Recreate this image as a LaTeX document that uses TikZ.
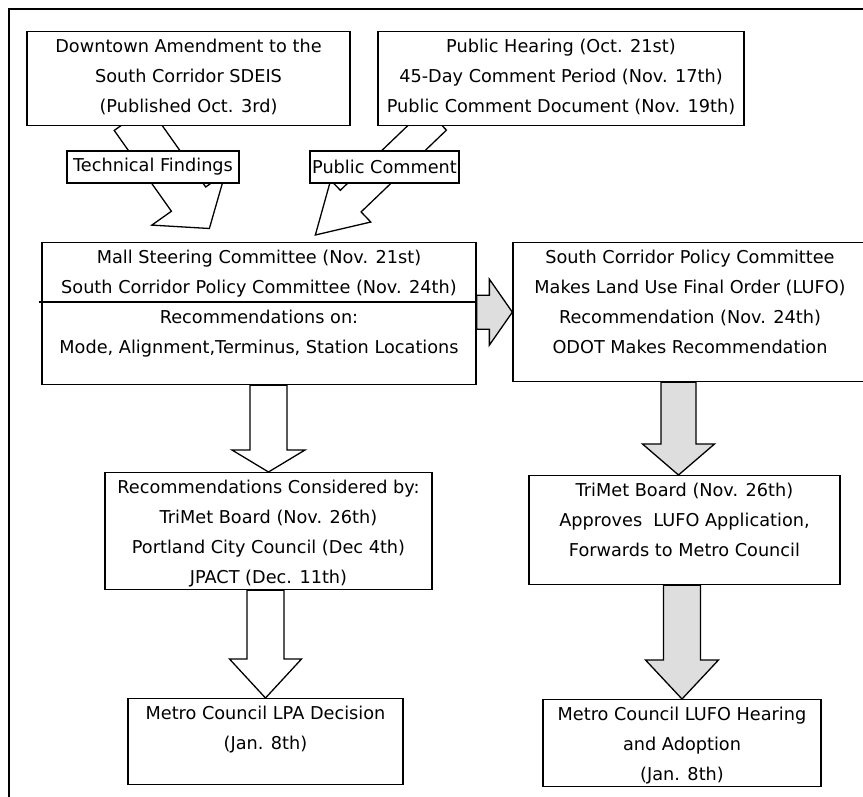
\documentclass[tikz,border=0pt]{standalone}
\usepackage{fontspec}
\setmainfont{DejaVu Sans}
\usetikzlibrary{calc,backgrounds}

\definecolor{arrowgray}{gray}{0.87}

% top aligned box text: width, height, lines
\newcommand{\boxtext}[3]{\parbox[t][#2][t]{#1}{\centering\rule{0pt}{21pt}#3}}

% block arrow: [fill] tail, tip, shaft half width, head half width, head length
\newcommand{\blockarrow}[6][white]{%
  \coordinate (ba) at ($(#3)!#6!(#2)$);
  \draw[line width=1.3pt, line join=miter, fill=#1] ($(#2)!#4!90:(#3)$) -- ($(ba)!#4!90:(#3)$) -- ($(ba)!#5!90:(#3)$) -- (#3)
    -- ($(ba)!#5!-90:(#3)$) -- ($(ba)!#4!-90:(#3)$) -- ($(#2)!#4!-90:(#3)$) -- cycle;}

\begin{document}
\begin{tikzpicture}[x=1pt, y=-1pt, line width=1.3pt,
    font=\fontsize{17.7pt}{30pt}\selectfont,
    box/.style={draw, fill=white, anchor=north, inner sep=0pt},
    tag/.style={draw, fill=white, inner sep=0pt, minimum height=32pt}]
  \useasboundingbox (0,0) rectangle (863,797);
  \draw[line width=1.6pt] (9,810) -- (9,9) -- (880,9);

  % sources
  \node[box] (draft) at (188.5,31) {\boxtext{323pt}{94pt}{Downtown Amendment to the\\South Corridor SDEIS\\(Published Oct. 3rd)}};
  \node[box] (hearing) at (561,31) {\boxtext{366pt}{94pt}{Public Hearing (Oct. 21st)\\45-Day Comment Period (Nov. 17th)\\Public Comment Document (Nov. 19th)}};
  \node[tag, minimum width=172pt] (tech) at (153,167) {Technical Findings};
  \node[tag, minimum width=149pt] (comment) at (384.5,167) {Public Comment};

  % committees
  \node[box] (mall) at (259,242) {\boxtext{434pt}{142pt}{Mall Steering Committee (Nov. 21st)\\South Corridor Policy Committee (Nov. 24th)\\Recommendations on:\\Mode, Alignment,Terminus, Station Locations}};
  \draw ($(mall.north west)+(-2.5,60)$) -- ($(mall.north east)+(0,60)$);
  \node[box] (lufo) at (690,242) {\boxtext{354pt}{139pt}{South Corridor Policy Committee\\Makes Land Use Final Order (LUFO)\\Recommendation (Nov. 24th)\\ODOT Makes Recommendation}};

  % decisions
  \node[box] (recs) at (268.5,472) {\boxtext{327pt}{117pt}{Recommendations Considered by:\\TriMet Board (Nov. 26th)\\Portland City Council (Dec 4th)\\JPACT (Dec. 11th)}};
  \node[box] (trimet) at (684.5,475) {\boxtext{311pt}{109pt}{TriMet Board (Nov. 26th)\\Approves~ LUFO Application,\\Forwards to Metro Council}};
  \node[box] (lpa) at (265.5,698) {\boxtext{275pt}{86pt}{Metro Council LPA Decision\\(Jan. 8th)}};
  \node[box] (adopt) at (682,699) {\boxtext{278pt}{87pt}{Metro Council LUFO Hearing\\and Adoption\\(Jan. 8th)}};

  \begin{pgfonlayer}{background}
    \coordinate (tf-s) at ($(draft.south west)+(105,-8)$);
    \coordinate (tf-t) at ($(mall.north west)+(168,-13.5)$);
    \blockarrow{tf-s}{tf-t}{21pt}{45pt}{36pt}
    \coordinate (pc-s) at ($(hearing.south west)+(58.7,-7)$);
    \coordinate (pc-t) at ($(mall.north west)+(274,-7)$);
    \blockarrow{pc-s}{pc-t}{15pt}{29pt}{49pt}

    \coordinate (cd-s) at (mall.east |- lufo.west);
    \blockarrow[arrowgray]{cd-s}{lufo.west}{17pt}{33pt}{23pt}
    \coordinate (cg-s) at (recs.north |- mall.south);
    \blockarrow{cg-s}{recs.north}{18.5pt}{36.5pt}{22pt}
    \coordinate (gh-s) at (lpa.north |- recs.south);
    \blockarrow{gh-s}{lpa.north}{18.5pt}{36pt}{39pt}

    \coordinate (de-t) at ([xshift=-6pt]trimet.north);
    \coordinate (de-s) at (de-t |- lufo.south);
    \blockarrow[arrowgray]{de-s}{de-t}{17.5pt}{36pt}{31pt}
    \coordinate (ef-s) at (adopt.north |- trimet.south);
    \blockarrow[arrowgray]{ef-s}{adopt.north}{18.5pt}{36.5pt}{39pt}
  \end{pgfonlayer}
\end{tikzpicture}
\end{document}
